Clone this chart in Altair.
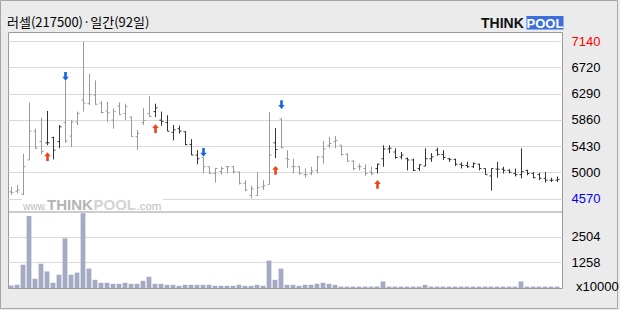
import altair as alt
import pandas as pd

TITLE = "러셀(217500)·일간(92일)"

OPEN = [4680, 4690, 4640, 5200, 5670, 5500, 5480, 5565, 5500, 5810,
        5590, 5820, 6180, 6120, 6260, 6130, 6000, 5850, 6080, 5960,
        5900, 5580, 5810, 5960, 5990, 5850, 5810, 5650, 5710, 5660,
        5450, 5280, 5240, 5090, 4980, 5010, 5090, 5090, 5000, 4820,
        4620, 4620, 4760, 4800, 5480, 5870, 5220, 5090, 5090, 4960,
        4980, 5030, 5250, 5440, 5500, 5440, 5290, 5180, 5090, 5060,
        5000, 5060, 5220, 5380, 5330, 5250, 5220, 5200, 5060, 5100,
        5220, 5360, 5290, 5220, 5210, 5130, 5110, 5090, 5130, 5060,
        4940, 5050, 5050, 5030, 4980, 4960, 5030, 4980, 4960, 4900,
        4870, 4870]
HIGH = [4760, 4790, 5300, 6140, 5710, 5890, 6000, 5580, 5770, 6500,
        5850, 5990, 7130, 6610, 6500, 6160, 6150, 6040, 6140, 6120,
        5910, 5690, 6050, 6240, 6120, 5990, 5930, 5770, 5760, 5670,
        5540, 5360, 5240, 5090, 5070, 5090, 5100, 5100, 5010, 4870,
        4780, 5000, 4870, 5980, 5720, 5880, 5360, 5220, 5100, 5060,
        5090, 5270, 5510, 5580, 5590, 5440, 5310, 5200, 5140, 5130,
        5090, 5140, 5440, 5440, 5390, 5330, 5240, 5220, 5130, 5390,
        5310, 5400, 5360, 5230, 5220, 5160, 5170, 5160, 5140, 5060,
        5060, 5170, 5090, 5050, 5060, 5390, 5040, 5000, 4990, 5000,
        4910, 4930]
LOW = [4630, 4650, 4620, 5200, 5380, 5290, 5440, 5210, 5390, 5480,
       5410, 5770, 5990, 6100, 6100, 5960, 5820, 5710, 5930, 5850,
       5580, 5360, 5770, 5900, 5900, 5760, 5670, 5520, 5630, 5440,
       5280, 5130, 4980, 4980, 4830, 4960, 4980, 4980, 4800, 4690,
       4570, 4620, 4710, 4800, 5230, 5390, 5070, 4980, 4960, 4910,
       4950, 4980, 5140, 5390, 5390, 5270, 5170, 5030, 5030, 4940,
       4950, 4980, 5090, 5310, 5220, 5210, 5030, 5020, 5020, 5100,
       5170, 5270, 5200, 5170, 5100, 5060, 5070, 5070, 5030, 4960,
       4700, 4910, 4980, 4980, 4930, 4900, 4950, 4900, 4870, 4830,
       4840, 4840]
CLOSE = [4670, 4710, 5090, 5670, 5390, 5340, 5480, 5360, 5740, 5510,
         5820, 5960, 6130, 6270, 6110, 5975, 5970, 5990, 5945, 6070,
         5580, 5630, 5845, 5910, 6050, 5830, 5670, 5690, 5670, 5450,
         5280, 5220, 5090, 4980, 5060, 5060, 5090, 5010, 4820, 4710,
         4730, 4750, 4780, 5280, 5370, 5400, 5210, 5090, 4980, 4960,
         5020, 5250, 5380, 5470, 5520, 5290, 5180, 5060, 5090, 4980,
         4980, 5130, 5380, 5390, 5240, 5280, 5200, 5030, 5120, 5220,
         5250, 5290, 5240, 5210, 5130, 5110, 5090, 5140, 5060, 4960,
         5060, 5050, 5030, 5000, 4960, 5010, 4980, 4910, 4900, 4870,
         4870, 4880]
VOLUME = [120, 160, 1140, 3530, 450, 1190, 810, 255, 650, 2430,
          650, 750, 3660, 950, 400, 255, 255, 205, 205, 255,
          205, 205, 350, 550, 205, 205, 155, 155, 105, 155,
          155, 155, 155, 155, 105, 105, 105, 105, 155, 105,
          105, 155, 105, 1340, 400, 950, 155, 155, 105, 155,
          155, 205, 255, 205, 155, 70, 70, 70, 70, 70,
          70, 80, 320, 70, 70, 70, 70, 70, 70, 155,
          70, 70, 70, 70, 70, 70, 70, 70, 70, 70,
          70, 70, 70, 70, 70, 320, 70, 70, 70, 70,
          70, 70]

BUY_IDX = [6, 24, 44, 61]
BUY_PRICE = [5254, 5713, 5031, 4802]
SELL_IDX = [9, 32, 45]
SELL_PRICE = [6565, 5323, 6103]

MONTH_IDX = [11, 33, 52, 74]
MONTH_LABELS = ["21/04", "21/05", "21/06", "21/07"]
PRICE_LABELS = ["4570", "5000", "5430", "5860", "6290", "6720", "7140"]
VOL_TICKS = [1258, 2504]

# ---- layout ----
W, H_PRICE, H_VOL = 554, 180, 76
H = H_PRICE + H_VOL
PX = 6.0
X_MAX = W / PX
P_TOP, P_BOT = 7290, 4350
p_per_px = (P_TOP - P_BOT) / H_PRICE
p_domain = [P_BOT - H_VOL * p_per_px, P_TOP]
V_TOP = 3720
v_domain = [0, V_TOP * H / H_VOL]

p_lo, p_hi = float(PRICE_LABELS[0]), float(PRICE_LABELS[-1])
p_step = (p_hi - p_lo) / (len(PRICE_LABELS) - 1)
p_grid = [p_lo + k * p_step for k in range(len(PRICE_LABELS))]

N = len(OPEN)
tone = []
for i in range(N):
    d = False
    for b in BUY_IDX:
        nxt = [s for s in SELL_IDX if s > b]
        end = nxt[0] if nxt else N
        if b <= i < end:
            d = True
    tone.append("d" if d else "g")

df = pd.DataFrame({"i": list(range(N)), "open": OPEN, "high": HIGH,
                   "low": LOW, "close": CLOSE, "vol": VOLUME, "tone": tone})
half = 0.5 / PX
df["xc"] = df["i"] + 0.5 + half
df["xo"] = df["xc"] - 2 / PX
df["xcl"] = df["xc"] + 2 / PX
df["x0"] = df["i"] + 0.6 / PX
df["x1"] = df["i"] + 5.4 / PX

buy = pd.DataFrame({"xc": [i + 0.5 + half for i in BUY_IDX], "p": BUY_PRICE})
sell = pd.DataFrame({"xc": [i + 0.5 + half for i in SELL_IDX], "p": SELL_PRICE})

NARROW = "Liberation Sans Narrow, Liberation Sans, Arial"
GRID = "#d9d9d9"

xscale = alt.Scale(domain=[0, X_MAX], nice=False, zero=False)
pscale = alt.Scale(domain=p_domain, nice=False, zero=False)
vscale = alt.Scale(domain=v_domain, nice=False, zero=False)

month_map = "{" + ",".join(f"'{m}':'{l}'" for m, l in zip(MONTH_IDX, MONTH_LABELS)) + "}"
xaxis = alt.Axis(values=MONTH_IDX, labelExpr=f"{month_map}[''+datum.value]",
                 grid=True, gridColor=GRID, domain=False, ticks=False, tickSize=0,
                 labelPadding=6, labelFont=NARROW, labelFontSize=13,
                 labelColor="#000000", title=None)
plabels = "[" + ",".join(f"'{l}'" for l in PRICE_LABELS) + "]"
paxis = alt.Axis(orient="right", values=p_grid,
                 labelExpr=f"{plabels}[round((datum.value-{p_lo})/{p_step})]",
                 labelColor={"condition": [{"test": f"datum.value > {p_hi - 1}", "value": "#ff0000"},
                                           {"test": f"datum.value < {p_lo + 1}", "value": "#0000ff"}],
                             "value": "#000000"},
                 grid=True, gridColor=GRID, domain=False, ticks=False, tickSize=0,
                 labelPadding=9, labelFont=NARROW, labelFontSize=13, title=None)
vaxis = alt.Axis(orient="right", values=VOL_TICKS, format="d", grid=True, gridColor=GRID,
                 domain=False, ticks=False, tickSize=0, labelPadding=9,
                 labelFont=NARROW, labelFontSize=13, labelColor="#000000", title=None)

tone_color = alt.Color("tone:N", scale=alt.Scale(domain=["g", "d"], range=["#9a9a9a", "#333333"]),
                       legend=None)

base = alt.Chart(df)
wick = base.mark_rule(strokeWidth=1).encode(
    x=alt.X("xc:Q", scale=xscale, axis=xaxis),
    y=alt.Y("low:Q", scale=pscale, axis=paxis),
    y2="high:Q", color=tone_color)
otick = base.mark_rule(strokeWidth=1).encode(
    x=alt.X("xo:Q", scale=xscale, axis=None), x2="xc:Q",
    y=alt.Y("open:Q", scale=pscale), color=tone_color)
ctick = base.mark_rule(strokeWidth=1).encode(
    x=alt.X("xc:Q", scale=xscale, axis=None), x2="xcl:Q",
    y=alt.Y("close:Q", scale=pscale), color=tone_color)

UP = "M0,-1 L0.75,-0.1 L0.3,-0.1 L0.3,1 L-0.3,1 L-0.3,-0.1 L-0.75,-0.1 Z"
DOWN = "M0,1 L0.75,0.1 L0.3,0.1 L0.3,-1 L-0.3,-1 L-0.3,0.1 L-0.75,0.1 Z"
buy_m = alt.Chart(buy).mark_point(shape=UP, filled=True, size=76, color="#ee4418",
                                  opacity=1, strokeWidth=0).encode(
    x=alt.X("xc:Q", scale=xscale, axis=None), y=alt.Y("p:Q", scale=pscale))
sell_m = alt.Chart(sell).mark_point(shape=DOWN, filled=True, size=76, color="#1b63e6",
                                    opacity=1, strokeWidth=0).encode(
    x=alt.X("xc:Q", scale=xscale, axis=None), y=alt.Y("p:Q", scale=pscale))

one = pd.DataFrame({"k": [0]})
sep = alt.Chart(one).mark_rule(color="#9a9a9a", strokeWidth=1).encode(
    y=alt.datum(P_BOT, scale=pscale))

# watermark
wm_bg = alt.Chart(one).mark_rect(color="#ffffff").encode(
    x=alt.value(14), x2=alt.value(155), y=alt.value(163), y2=alt.value(179.5))
wm1 = alt.Chart(pd.DataFrame({"t": ["www."]})).mark_text(
    align="left", baseline="alphabetic", font="Liberation Sans", fontSize=10,
    color="#bcbcbc").encode(text="t:N", x=alt.value(15), y=alt.value(178))
wm2 = alt.Chart(pd.DataFrame({"t": ["THINK"]})).mark_text(
    align="left", baseline="alphabetic", font="Liberation Sans", fontSize=15,
    fontWeight="bold", color="#b4b4b4").encode(text="t:N", x=alt.value(39), y=alt.value(178))
wm3 = alt.Chart(pd.DataFrame({"t": ["POOL"]})).mark_text(
    align="left", baseline="alphabetic", font="Liberation Sans", fontSize=15,
    fontWeight="bold", color="#d4d4d4").encode(text="t:N", x=alt.value(85.5), y=alt.value(178))
wm4 = alt.Chart(pd.DataFrame({"t": [".com"]})).mark_text(
    align="left", baseline="alphabetic", font="Liberation Sans", fontSize=11.5,
    color="#bcbcbc").encode(text="t:N", x=alt.value(128.5), y=alt.value(178))

# title and logo
title = alt.Chart(pd.DataFrame({"t": [TITLE]})).mark_text(
    align="left", baseline="alphabetic", font="Noto Sans CJK KR", fontSize=13,
    color="#000000").encode(text="t:N", x=alt.value(-1), y=alt.value(-5))
logo1 = alt.Chart(pd.DataFrame({"t": ["THINK"]})).mark_text(
    align="left", baseline="alphabetic", font="Liberation Sans", fontSize=14,
    fontWeight="bold", color="#111111").encode(text="t:N", x=alt.value(473), y=alt.value(-4.5))
logo_bg = alt.Chart(one).mark_rect(color="#3c6fdc").encode(
    x=alt.value(518.5), x2=alt.value(555.5), y=alt.value(-16), y2=alt.value(-2.5))
logo2 = alt.Chart(pd.DataFrame({"t": ["POOL"]})).mark_text(
    align="center", baseline="alphabetic", font="Liberation Sans", fontSize=13,
    fontWeight="bold", color="#ffffff").encode(text="t:N", x=alt.value(537), y=alt.value(-4.5))
frame = alt.Chart(one).mark_rect(fill=None, stroke="#a6a6a6", strokeWidth=1, filled=False).encode(
    x=alt.value(-7.5), x2=alt.value(609.5), y=alt.value(-31.5), y2=alt.value(276.5))

price_group = alt.layer(wick, otick, ctick, wm_bg, wm1, wm2, wm3, wm4, sep, buy_m, sell_m,
                        title, logo1, logo_bg, logo2, frame)

vol_bars = base.mark_rect(color="#a3aac2").encode(
    x=alt.X("x0:Q", scale=xscale, axis=None), x2="x1:Q",
    y=alt.Y("vol:Q", scale=vscale, axis=vaxis), y2=alt.datum(0))
unit = alt.Chart(pd.DataFrame({"t": ["x10000"]})).mark_text(
    align="left", baseline="middle", font=NARROW, fontSize=13, color="#000000", dy=-1.5).encode(
    text="t:N", x=alt.value(568), y=alt.datum(0, scale=vscale))
vol_group = alt.layer(vol_bars, unit)

chart = alt.layer(price_group, vol_group).resolve_scale(y="independent").properties(
    width=W, height=H, autosize="none",
    padding={"left": 8, "top": 32, "right": 620 - 8 - W, "bottom": 310 - 32 - H},
    background="#ebebeb",
).configure_view(fill="#ffffff", stroke="#9a9a9a", strokeWidth=1)

chart.save("out.html", embed_options={"renderer": "svg", "actions": False})
